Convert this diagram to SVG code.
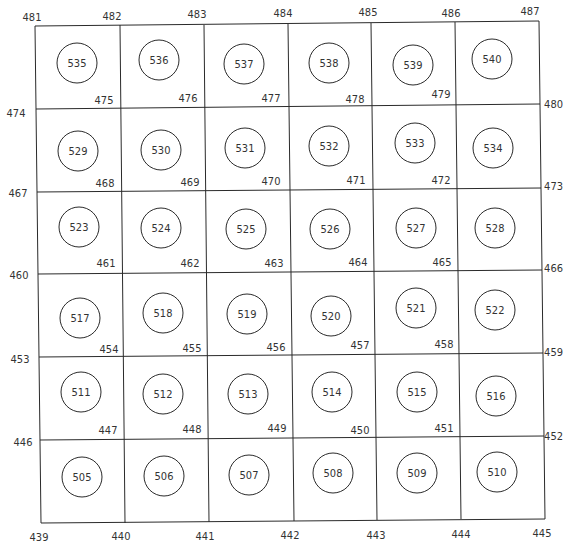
<svg xmlns="http://www.w3.org/2000/svg" width="564" height="544" viewBox="0 0 564 544">
<style>
  .bg{fill:#ffffff}
  .grid line{stroke:#2a2a2a;stroke-width:1;fill:none}
  .node circle{fill:none;stroke:#2a2a2a;stroke-width:1}
  text{font-family:"Liberation Sans Narrow","DejaVu Sans Condensed","Liberation Sans",sans-serif;font-size:11px;fill:#333333;text-anchor:middle}
  .node text{dominant-baseline:central}
  text.r{text-anchor:end}
</style>
<rect class="bg" x="0" y="0" width="564" height="544"/>
<g id="connectors" class="grid">
  <line x1="35" y1="26" x2="41" y2="523"/>
  <line x1="120" y1="25" x2="125" y2="523"/>
  <line x1="204" y1="25" x2="209" y2="522"/>
  <line x1="288" y1="24" x2="294" y2="521"/>
  <line x1="371" y1="23" x2="377" y2="520"/>
  <line x1="455" y1="22" x2="461" y2="519"/>
  <line x1="539" y1="21" x2="545" y2="519"/>
  <line x1="35" y1="26" x2="539" y2="21"/>
  <line x1="36" y1="109" x2="540" y2="104"/>
  <line x1="37" y1="192" x2="541" y2="188"/>
  <line x1="38" y1="274" x2="542" y2="270"/>
  <line x1="39" y1="357" x2="543" y2="353"/>
  <line x1="40" y1="440" x2="544" y2="436"/>
  <line x1="41" y1="523" x2="545" y2="519"/>
</g>
<g id="corner-labels">
  <text x="32" y="21">481</text><text x="112" y="20">482</text><text x="197" y="18">483</text><text x="283" y="17">484</text><text x="368" y="16">485</text><text x="451" y="17">486</text><text x="530" y="15">487</text>
  <text x="16" y="117">474</text><text x="18" y="197">467</text><text x="19" y="279">460</text><text x="20" y="363">453</text><text x="23" y="446">446</text><text x="39" y="541">439</text>
  <text x="121" y="540">440</text><text x="205" y="540">441</text><text x="290" y="539">442</text><text x="376" y="539">443</text><text x="461" y="538">444</text><text x="542" y="537">445</text>
  <text class="r" x="563" y="108">480</text><text class="r" x="563" y="190">473</text><text class="r" x="563" y="272">466</text><text class="r" x="563" y="356">459</text><text class="r" x="563" y="440">452</text>
  <text x="104" y="104">475</text><text x="188" y="102">476</text><text x="271" y="102">477</text><text x="355" y="103">478</text><text x="441" y="98">479</text>
  <text x="105" y="187">468</text><text x="190" y="186">469</text><text x="271" y="185">470</text><text x="356" y="184">471</text><text x="441" y="184">472</text>
  <text x="106" y="267">461</text><text x="190" y="267">462</text><text x="274" y="267">463</text><text x="358" y="266">464</text><text x="442" y="266">465</text>
  <text x="109" y="353">454</text><text x="192" y="352">455</text><text x="276" y="351">456</text><text x="360" y="349">457</text><text x="444" y="348">458</text>
  <text x="108" y="434">447</text><text x="192" y="433">448</text><text x="277" y="432">449</text><text x="360" y="434">450</text><text x="444" y="432">451</text>
</g>
<g id="n535" class="node"><circle cx="77" cy="63" r="20"/><text x="77" y="63">535</text></g>
<g id="n536" class="node"><circle cx="159" cy="60" r="20"/><text x="159" y="60">536</text></g>
<g id="n537" class="node"><circle cx="244" cy="64" r="20"/><text x="244" y="64">537</text></g>
<g id="n538" class="node"><circle cx="329" cy="63" r="20"/><text x="329" y="63">538</text></g>
<g id="n539" class="node"><circle cx="413" cy="65" r="20"/><text x="413" y="65">539</text></g>
<g id="n540" class="node"><circle cx="492" cy="59" r="20"/><text x="492" y="59">540</text></g>
<g id="n529" class="node"><circle cx="78" cy="151" r="20"/><text x="78" y="151">529</text></g>
<g id="n530" class="node"><circle cx="161" cy="150" r="20"/><text x="161" y="150">530</text></g>
<g id="n531" class="node"><circle cx="245" cy="148" r="20"/><text x="245" y="148">531</text></g>
<g id="n532" class="node"><circle cx="329" cy="146" r="20"/><text x="329" y="146">532</text></g>
<g id="n533" class="node"><circle cx="415" cy="143" r="20"/><text x="415" y="143">533</text></g>
<g id="n534" class="node"><circle cx="493" cy="148" r="20"/><text x="493" y="148">534</text></g>
<g id="n523" class="node"><circle cx="79" cy="227" r="20"/><text x="79" y="227">523</text></g>
<g id="n524" class="node"><circle cx="161" cy="228" r="20"/><text x="161" y="228">524</text></g>
<g id="n525" class="node"><circle cx="246" cy="229" r="20"/><text x="246" y="229">525</text></g>
<g id="n526" class="node"><circle cx="330" cy="229" r="20"/><text x="330" y="229">526</text></g>
<g id="n527" class="node"><circle cx="416" cy="228" r="20"/><text x="416" y="228">527</text></g>
<g id="n528" class="node"><circle cx="495" cy="228" r="20"/><text x="495" y="228">528</text></g>
<g id="n517" class="node"><circle cx="80" cy="318" r="20"/><text x="80" y="318">517</text></g>
<g id="n518" class="node"><circle cx="163" cy="313" r="20"/><text x="163" y="313">518</text></g>
<g id="n519" class="node"><circle cx="247" cy="314" r="20"/><text x="247" y="314">519</text></g>
<g id="n520" class="node"><circle cx="331" cy="316" r="20"/><text x="331" y="316">520</text></g>
<g id="n521" class="node"><circle cx="416" cy="308" r="20"/><text x="416" y="308">521</text></g>
<g id="n522" class="node"><circle cx="495" cy="310" r="20"/><text x="495" y="310">522</text></g>
<g id="n511" class="node"><circle cx="81" cy="392" r="20"/><text x="81" y="392">511</text></g>
<g id="n512" class="node"><circle cx="163" cy="394" r="20"/><text x="163" y="394">512</text></g>
<g id="n513" class="node"><circle cx="248" cy="394" r="20"/><text x="248" y="394">513</text></g>
<g id="n514" class="node"><circle cx="332" cy="392" r="20"/><text x="332" y="392">514</text></g>
<g id="n515" class="node"><circle cx="417" cy="392" r="20"/><text x="417" y="392">515</text></g>
<g id="n516" class="node"><circle cx="496" cy="396" r="20"/><text x="496" y="396">516</text></g>
<g id="n505" class="node"><circle cx="82" cy="477" r="20"/><text x="82" y="477">505</text></g>
<g id="n506" class="node"><circle cx="164" cy="476" r="20"/><text x="164" y="476">506</text></g>
<g id="n507" class="node"><circle cx="249" cy="475" r="20"/><text x="249" y="475">507</text></g>
<g id="n508" class="node"><circle cx="333" cy="473" r="20"/><text x="333" y="473">508</text></g>
<g id="n509" class="node"><circle cx="417" cy="473" r="20"/><text x="417" y="473">509</text></g>
<g id="n510" class="node"><circle cx="497" cy="472" r="20"/><text x="497" y="472">510</text></g>
</svg>
